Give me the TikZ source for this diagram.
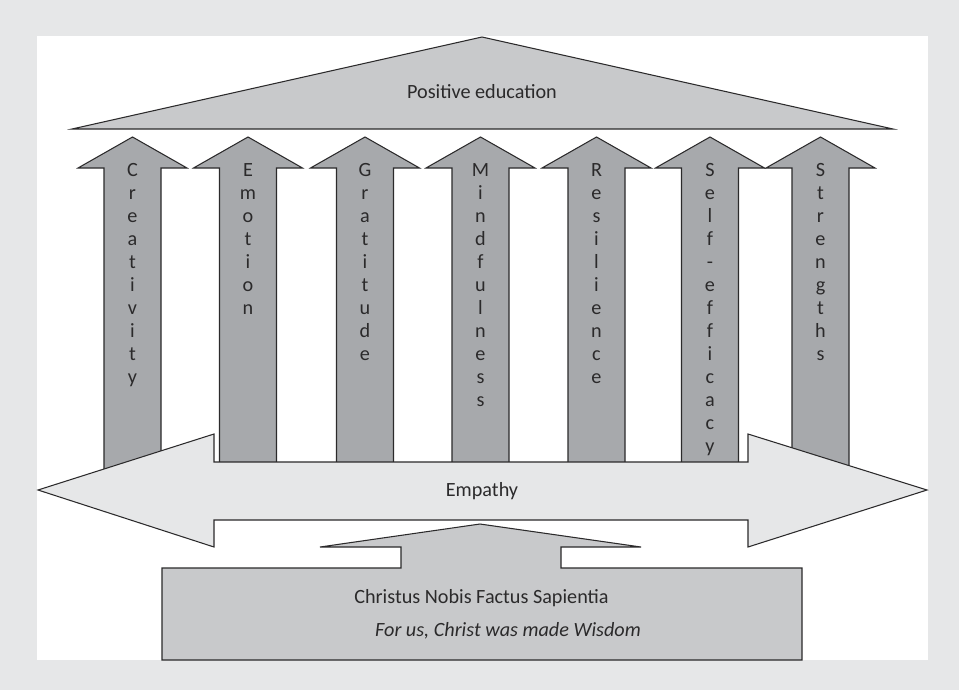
\documentclass[tikz,border=0pt]{standalone}
\usepackage{fontspec}
\setmainfont{Carlito}
\usepackage{xcolor}
\usepackage{tikz}
\usetikzlibrary{positioning}

\definecolor{pagegrey}{HTML}{E6E7E8}
\definecolor{roofgrey}{HTML}{C8C9CB}
\definecolor{pillargrey}{HTML}{A7A9AC}
\definecolor{inkgrey}{HTML}{2B2A2B}

\begin{document}
\begin{tikzpicture}[
  x=0.02cm, y=-0.02cm,
  font=\fontsize{11.5}{13.1}\selectfont,
  outline/.style={draw=inkgrey, line width=0.6pt, line join=miter},
  roof/.style={outline, fill=roofgrey},
  pillar/.style={outline, fill=pillargrey},
  band/.style={outline, fill=pagegrey},
  label/.style={text=inkgrey, inner sep=0pt},
  letters/.style={label, align=center, anchor=north}
]
% frame
\fill[pagegrey] (0,0) rectangle (959,690);
\fill[white] (37,36) rectangle (928,660);
\useasboundingbox (0,0) rectangle (959,690);

% roof
\draw[roof] (72,129) -- (482,37) -- (893,129) -- cycle;
\node[label, anchor=base] (pos) at (482,98) {Positive education};

% pillars
\foreach \x/\word/\nm in {
  132.5/{C\\r\\e\\a\\t\\i\\v\\i\\t\\y}/crea,
  248/{E\\m\\o\\t\\i\\o\\n}/emo,
  365/{G\\r\\a\\t\\i\\t\\u\\d\\e}/grat,
  480.5/{M\\i\\n\\d\\f\\u\\l\\n\\e\\s\\s}/mind,
  596.5/{R\\e\\s\\i\\l\\i\\e\\n\\c\\e}/resil,
  710/{S\\e\\l\\f\\-\\e\\f\\f\\i\\c\\a\\c\\y}/selfeff,
  820.5/{S\\t\\r\\e\\n\\g\\t\\h\\s}/strength}{
  \draw[pillar] (\x-28.5,490) -- (\x-28.5,168) -- (\x-54.5,168) -- (\x,137)
    -- (\x+54.5,168) -- (\x+28.5,168) -- (\x+28.5,490) -- cycle;
  \node[letters] (\nm) at (\x,163) {\word};
}

% empathy
\draw[band] (38,490) -- (214,434) -- (214,462) -- (748,462) -- (748,434)
  -- (927,490) -- (748,547) -- (748,520) -- (214,520) -- (214,547) -- cycle;
\node[label, anchor=base] (emp) at (482,496) {Empathy};

% foundation
\draw[roof] (162,568) -- (401,568) -- (401,547) -- (320,547) -- (480,524)
  -- (641,547) -- (561,547) -- (561,568) -- (802,568) -- (802,660)
  -- (162,660) -- cycle;
\node[label, anchor=base] (motto) at (481.5,603.5) {Christus Nobis Factus Sapientia};
\node[label, anchor=base, font=\fontsize{11.5}{13.1}\selectfont\itshape] (transl) at (508,636.5) {For us, Christ was made Wisdom};
\end{tikzpicture}
\end{document}
